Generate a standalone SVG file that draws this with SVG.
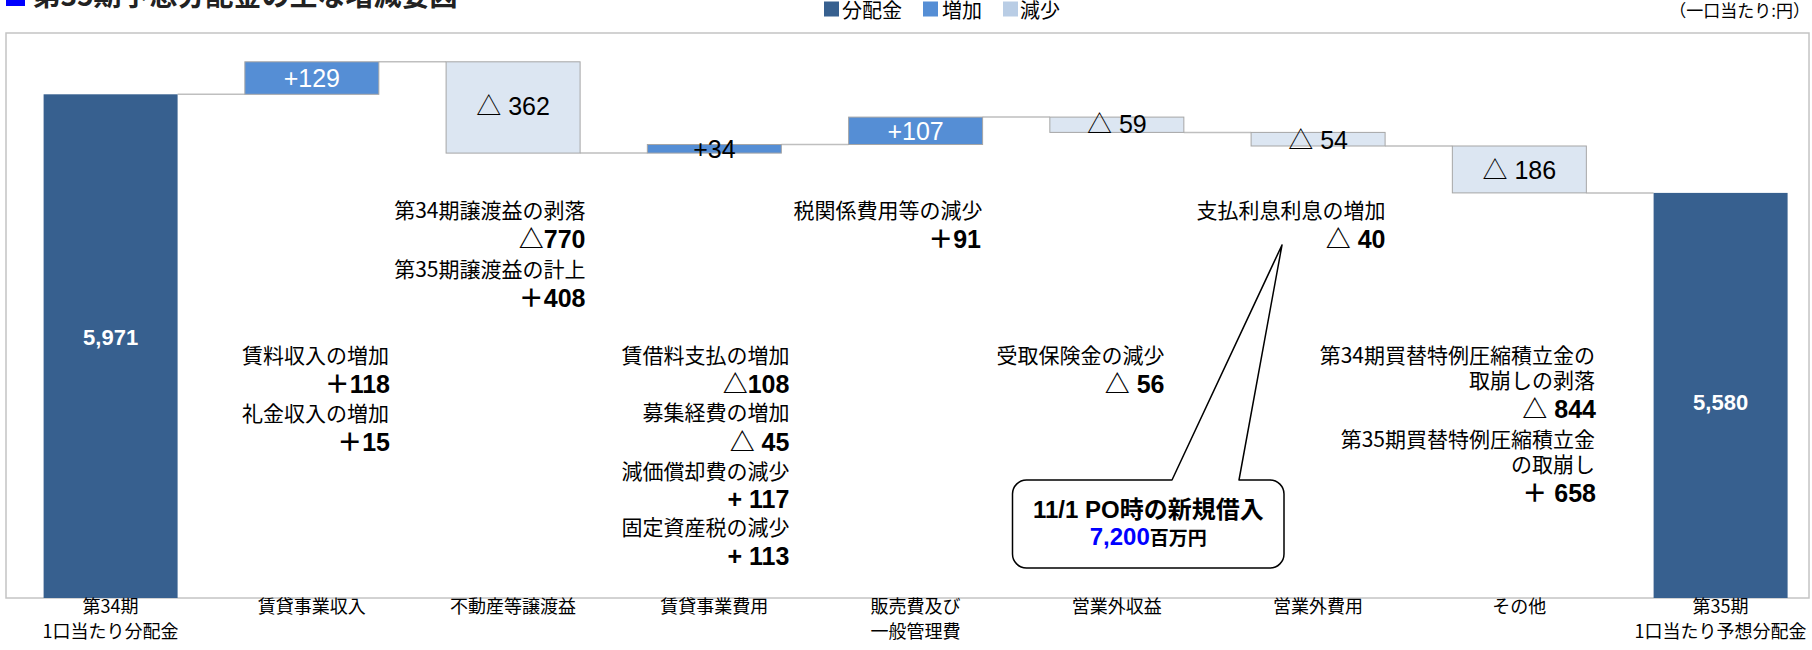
<svg xmlns="http://www.w3.org/2000/svg" width="1812" height="650" viewBox="0 0 1812 650">
<style>
.total{fill:#37608F}
.inc{fill:#558ED5;stroke:#A6A6A6;stroke-width:1}
.dec{fill:#DCE6F2;stroke:#A6A6A6;stroke-width:1}
.conn{stroke:#BFBFBF;stroke-width:1.5;fill:none}
.val{font-family:"Liberation Sans","Noto Sans CJK JP",sans-serif;font-size:25px;text-anchor:middle;fill:#000}
.w{fill:#fff}
.tot{font-family:"Liberation Sans","Noto Sans CJK JP",sans-serif;font-size:22px;font-weight:bold;text-anchor:middle;fill:#fff}
.desc{font-family:"Noto Sans CJK JP",sans-serif;font-size:21px;text-anchor:end;fill:#000}
.num{font-family:"Liberation Sans","Noto Sans CJK JP",sans-serif;font-size:25px;font-weight:bold;text-anchor:end;fill:#000}
.cat{font-family:"Noto Sans CJK JP",sans-serif;font-size:18px;text-anchor:middle;fill:#000}
.leg{font-family:"Noto Sans CJK JP",sans-serif;font-size:20px;fill:#000}
.call{font-family:"Liberation Sans","Noto Sans CJK JP",sans-serif;font-weight:bold;text-anchor:middle;fill:#000}
</style>
<rect x="0" y="0" width="1812" height="650" fill="#fff"/>
<g id="title">
<rect x="6" y="-14" width="19" height="20" fill="#0000FF"/>
<text x="32.5" y="5.5" font-family="Noto Sans CJK JP, sans-serif" font-size="28" font-weight="bold" fill="#222">第35期予想分配金の主な増減要因</text>
</g>
<g id="legend">
<rect x="824" y="1.5" width="15" height="15" fill="#37608F"/>
<text class="leg" x="842" y="17.5">分配金</text>
<rect x="923" y="1.5" width="15" height="15" fill="#558ED5"/>
<text class="leg" x="942" y="17.5">増加</text>
<rect x="1003" y="1.5" width="15" height="15" fill="#B9CDE5"/>
<text class="leg" x="1020" y="17.5">減少</text>
</g>
<text id="unit" x="1810" y="17" font-family="Noto Sans CJK JP, sans-serif" font-size="17" text-anchor="end">（一口当たり:円）</text>
<rect id="frame" x="6" y="33" width="1803" height="565" fill="none" stroke="#C4C4C4" stroke-width="1.5"/>
<g id="connectors">
<path class="conn" d="M177.6 94.3H244.85M378.85 61.8H446.1M580.1 153.1H647.35M781.35 144.5H848.6M982.6 117.1H1049.85M1183.85 132.4H1251.1M1385.1 146H1452.35M1586.35 192.9H1653.6"/>
</g>
<g id="bar34">
<rect class="total" x="43.6" y="94.3" width="134" height="503.7"/>
<text class="tot" x="110.6" y="345">5,971</text>
</g>
<g id="bar-rent-income">
<rect class="inc" x="244.85" y="61.8" width="134" height="32.5"/>
<text class="val w" x="311.85" y="87.3">+129</text>
</g>
<g id="bar-gain">
<rect class="dec" x="446.1" y="61.8" width="134" height="91.3"/>
<text class="val" x="513.1" y="115">△ 362</text>
</g>
<g id="bar-rent-expense">
<rect class="inc" x="647.35" y="144.5" width="134" height="8.6"/>
<text class="val" x="714.35" y="158.3">+34</text>
</g>
<g id="bar-sga">
<rect class="inc" x="848.6" y="117.1" width="134" height="27.4"/>
<text class="val w" x="915.6" y="140">+107</text>
</g>
<g id="bar-nonop-income">
<rect class="dec" x="1049.85" y="117.1" width="134" height="15.3"/>
<text class="val" x="1116.85" y="133.3">△ 59</text>
</g>
<g id="bar-nonop-expense">
<rect class="dec" x="1251.1" y="132.4" width="134" height="13.6"/>
<text class="val" x="1318.1" y="149.3">△ 54</text>
</g>
<g id="bar-other">
<rect class="dec" x="1452.35" y="146" width="134" height="46.9"/>
<text class="val" x="1519.35" y="179.3">△ 186</text>
</g>
<g id="bar35">
<rect class="total" x="1653.6" y="192.9" width="134" height="405.1"/>
<text class="tot" x="1720.6" y="410">5,580</text>
</g>
<g id="notes-rent-income">
<text class="desc" x="389" y="363.3">賃料収入の増加</text>
<text class="num" x="390" y="393.3">＋118</text>
<text class="desc" x="389" y="420.5">礼金収入の増加</text>
<text class="num" x="390" y="451">＋15</text>
</g>
<g id="notes-gain">
<text class="desc" x="585.5" y="218.3">第34期譲渡益の剥落</text>
<text class="num" x="585.5" y="248.3">△770</text>
<text class="desc" x="585.5" y="276.7">第35期譲渡益の計上</text>
<text class="num" x="585.5" y="306.7">＋408</text>
</g>
<g id="notes-rent-expense">
<text class="desc" x="789.4" y="363.3">賃借料支払の増加</text>
<text class="num" x="789.4" y="393.3">△108</text>
<text class="desc" x="789.4" y="420">募集経費の増加</text>
<text class="num" x="789.4" y="450.7">△ 45</text>
<text class="desc" x="789.4" y="479.3">減価償却費の減少</text>
<text class="num" x="789.4" y="508.3">+ 117</text>
<text class="desc" x="789.4" y="535">固定資産税の減少</text>
<text class="num" x="789.4" y="565">+ 113</text>
</g>
<g id="notes-sga">
<text class="desc" x="982.6" y="218.3">税関係費用等の減少</text>
<text class="num" x="981" y="248.3">＋91</text>
</g>
<g id="notes-nonop-income">
<text class="desc" x="1164.5" y="363.3">受取保険金の減少</text>
<text class="num" x="1164.5" y="393.3">△ 56</text>
</g>
<g id="notes-nonop-expense">
<text class="desc" x="1385.5" y="218.3">支払利息利息の増加</text>
<text class="num" x="1385.5" y="248">△ 40</text>
</g>
<g id="notes-other">
<text class="desc" x="1595" y="363.3">第34期買替特例圧縮積立金の</text>
<text class="desc" x="1595" y="388.3">取崩しの剥落</text>
<text class="num" x="1596" y="418.3">△ 844</text>
<text class="desc" x="1595" y="446.7">第35期買替特例圧縮積立金</text>
<text class="desc" x="1595" y="471.7">の取崩し</text>
<text class="num" x="1596" y="501.7">＋ 658</text>
</g>
<g id="callout">
<path d="M1172 480L1282 245L1239 480H1270A14 14 0 0 1 1284 494V554A14 14 0 0 1 1270 568H1026.5A14 14 0 0 1 1012.5 554V494A14 14 0 0 1 1026.5 480Z" fill="#fff" stroke="#000" stroke-width="1.5" stroke-linejoin="round"/>
<text class="call" x="1148.3" y="518.3" font-size="24">11/1 PO時の新規借入</text>
<text class="call" x="1148.3" y="545"><tspan fill="#0000FF" font-size="24">7,200</tspan><tspan font-size="19">百万円</tspan></text>
</g>
<g id="categories">
<text class="cat" x="110.6" y="613">第34期</text>
<text class="cat" x="110.6" y="638">1口当たり分配金</text>
<text class="cat" x="311.85" y="613">賃貸事業収入</text>
<text class="cat" x="513.1" y="613">不動産等譲渡益</text>
<text class="cat" x="714.35" y="613">賃貸事業費用</text>
<text class="cat" x="915.6" y="613">販売費及び</text>
<text class="cat" x="915.6" y="638">一般管理費</text>
<text class="cat" x="1116.85" y="613">営業外収益</text>
<text class="cat" x="1318.1" y="613">営業外費用</text>
<text class="cat" x="1519.35" y="613">その他</text>
<text class="cat" x="1720.6" y="613">第35期</text>
<text class="cat" x="1720.6" y="638">1口当たり予想分配金</text>
</g>
</svg>
